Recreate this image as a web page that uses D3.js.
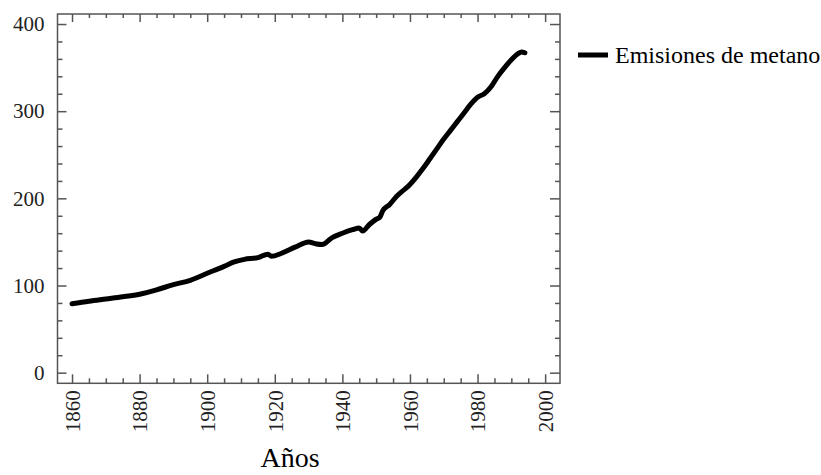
<html>
  <head>
    <script src="https://d3js.org/d3.v7.min.js"></script>
  </head>
  <body>
    <svg id="chart" width="821" height="475"></svg>
    <script>
      // data
      const years  = [1860,1865,1870,1875,1880,1885,1890,1895,1900,1905,1908,1911,1915,1918,1919,1922,1926,1930,1932,1934,1937,1940,1943,1945,1946,1948,1950,1951,1952,1954,1956,1958,1960,1962,1964,1966,1968,1970,1972,1974,1976,1978,1980,1982,1984,1986,1988,1990,1992,1993,1994];
      const values = [79,82,84.5,87,90,95,101,106,114,122,127,130,132,136,133.5,137,144,150,148,147,155,160,164,166,162.5,170,176,178,186,193,202,209,216,225,235,246,257,268,278,288,298,308,316,320,328,340,350,359,366,368,367];
      const xTicks = [1860,1880,1900,1920,1940,1960,1980,2000];
      const yTicks = [0,100,200,300,400];
      const seriesName = 'Emisiones de metano';
      const xTitle = 'Años';

      const svg = d3.select('svg#chart');
      const margins = {top: 14, left: 57.5};
      const chartWidth = 502.5;
      const chartHeight = 369.3;
      const font = 'Liberation Serif, Tinos, DejaVu Serif, serif';

      const xScale = d3.scaleLinear().domain([1855.7, 2004.4]).range([0, chartWidth]);
      const yScale = d3.scaleLinear().domain([-12.2, 411.5]).range([chartHeight, 0]);

      let chartArea = svg.append('g')
                         .attr('transform', `translate(${margins.left}, ${margins.top})`);

      const xMinor = d3.range(1860, 2001, 5).filter(v => v % 20 !== 0);
      const yMinor = d3.range(0, 401, 20).filter(v => v % 100 !== 0);

      // ticks on all four sides, pointing inward
      function addAxis(axis, transform) {
        return chartArea.append('g').attr('class', 'axis')
                        .attr('transform', transform).call(axis)
                        .attr('font-family', font);
      }
      addAxis(d3.axisLeft(yScale).tickValues(yMinor).tickSize(-5).tickFormat(''), '');
      addAxis(d3.axisRight(yScale).tickValues(yMinor).tickSize(-5).tickFormat(''), `translate(${chartWidth},0)`);
      addAxis(d3.axisBottom(xScale).tickValues(xMinor).tickSize(-5).tickFormat(''), `translate(0,${chartHeight})`);
      addAxis(d3.axisTop(xScale).tickValues(xMinor).tickSize(-4).tickFormat(''), '');

      addAxis(d3.axisRight(yScale).tickValues(yTicks).tickSize(-10).tickFormat(''), `translate(${chartWidth},0)`);
      addAxis(d3.axisTop(xScale).tickValues(xTicks).tickSize(-8).tickFormat(''), '');

      let left = addAxis(d3.axisLeft(yScale).tickValues(yTicks).tickSize(-9).tickPadding(13), '');
      left.selectAll('text').attr('font-size', 21);

      let bottom = addAxis(d3.axisBottom(xScale).tickValues(xTicks).tickSize(-9).tickFormat(d3.format('d')), `translate(0,${chartHeight})`);
      bottom.selectAll('text')
            .attr('transform', 'rotate(-90)')
            .attr('x', -7).attr('y', 0).attr('dy', '0.35em')
            .attr('text-anchor', 'end')
            .attr('font-size', 21);

      // frame
      chartArea.append('rect')
               .attr('width', chartWidth).attr('height', chartHeight)
               .attr('fill', 'none').attr('stroke', '#555').attr('stroke-width', 1.5);

      // curve
      const points = years.map((y, i) => [y, values[i]]);
      const line = d3.line().x(d => xScale(d[0])).y(d => yScale(d[1])).curve(d3.curveMonotoneX);
      chartArea.append('path')
               .datum(points)
               .attr('d', line)
               .attr('fill', 'none')
               .attr('stroke', 'black')
               .attr('stroke-width', 5)
               .attr('stroke-linejoin', 'round')
               .attr('stroke-linecap', 'round');

      // x title
      svg.append('text')
         .attr('x', 290).attr('y', 467)
         .attr('text-anchor', 'middle')
         .attr('font-family', font).attr('font-size', 28)
         .text(xTitle);

      // legend
      svg.append('line')
         .attr('x1', 578).attr('x2', 608).attr('y1', 55).attr('y2', 55)
         .attr('stroke', 'black').attr('stroke-width', 5);
      svg.append('text')
         .attr('x', 615).attr('y', 55).attr('dy', '0.35em')
         .attr('font-family', font).attr('font-size', 24)
         .text(seriesName);
    </script>
  </body>
  <style>
    body { margin: 0; }
    .axis text { fill: #222; }
    .axis line { stroke: #555; stroke-width: 1.5; }
    .axis .domain { stroke: none; }
  </style>
</html>
